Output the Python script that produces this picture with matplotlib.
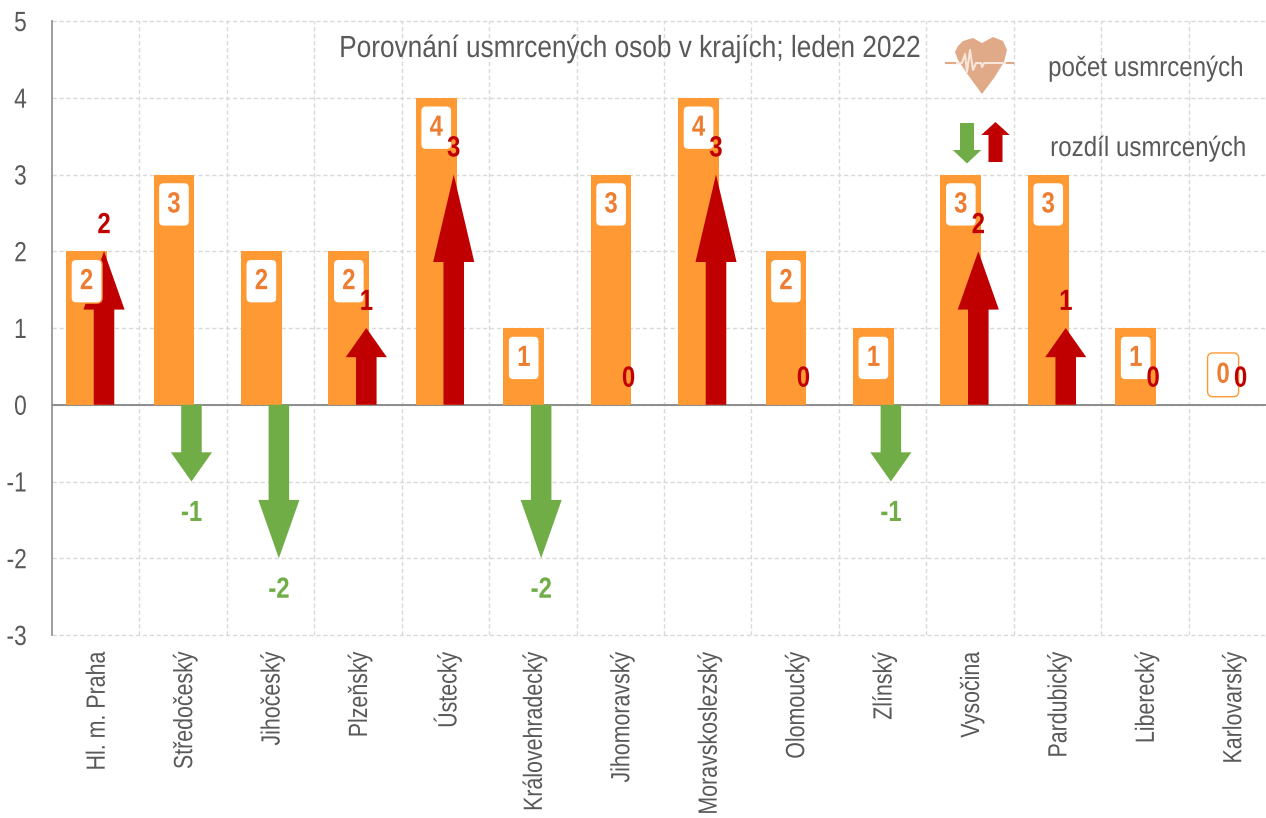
import matplotlib
matplotlib.use('Agg')
import matplotlib.pyplot as plt
import matplotlib.patheffects as pe
from matplotlib.patches import FancyArrow, FancyBboxPatch, Polygon
from matplotlib.transforms import Affine2D

plt.rcParams['font.family'] = ['Liberation Sans', 'DejaVu Sans']
plt.rcParams['axes.unicode_minus'] = False

# data
kraje = ['Hl. m. Praha', 'Středočeský', 'Jihočeský', 'Plzeňský', 'Ústecký', 'Královehradecký',
         'Jihomoravský', 'Moravskoslezský', 'Olomoucký', 'Zlínský', 'Vysočina', 'Pardubický',
         'Liberecký', 'Karlovarský']
pocet = [2, 3, 2, 2, 4, 1, 3, 4, 2, 1, 3, 3, 1, 0]
rozdil = [2, -1, -2, 1, 3, -2, 0, 3, 0, -1, 2, 1, 0, 0]
y_ticks = [-3, -2, -1, 0, 1, 2, 3, 4, 5]

BAR = '#FF9933'
LABEL = '#ED7D31'
RED = '#C00000'
GREEN = '#70AD47'
TEXT = '#595959'
W, H = 1266, 818


class Narrow(pe.AbstractPathEffect):
    """Zuzi text po delce radku (nahrada za Arial Narrow, ktery tu neni)."""
    def __init__(self, sx, anchor='center', dx=0):
        super().__init__()
        self.sx = sx
        self.anchor = anchor
        self.dx = dx

    def draw_path(self, renderer, gc, tpath, affine, rgbFace=None):
        ext = tpath.get_extents()
        c = ext.x1 if self.anchor == 'end' else (ext.x0 + ext.x1) / 2
        t = Affine2D().translate(-c, 0).scale(self.sx, 1).translate(c, 0) + affine
        t = t + Affine2D().translate(self.dx, 0)
        renderer.draw_path(gc, tpath, t, rgbFace)


fig = plt.figure(figsize=(W / 100, H / 100), dpi=100)
# osa jde schvalne az za pravy okraj obrazku
ax = fig.add_axes([52 / W, 1 - 635 / H, (1276 - 52) / W, (635 - 21) / H])
ax.set_xlim(-0.5, 13.5)
ax.set_ylim(-3, 5)
for s in ['top', 'right', 'bottom']:
    ax.spines[s].set_visible(False)
ax.spines['left'].set_color('#8C8C8C')
ax.spines['left'].set_linewidth(1.2)

ax.set_yticks(y_ticks)
ax.set_xticks(range(len(kraje)))
ax.set_xticklabels(kraje, rotation=90, fontsize=19, color=TEXT)
ax.set_xticks([i - 0.5 for i in range(1, len(kraje) + 1)], minor=True)
ax.tick_params(axis='x', which='both', length=0, pad=12)
ax.tick_params(axis='y', length=0, pad=18, labelsize=20, labelcolor=TEXT)
for lab in ax.get_xticklabels():
    lab.set_path_effects([Narrow(0.81, 'end', dx=2)])
for lab in ax.get_yticklabels():
    lab.set_path_effects([Narrow(0.82, 'end')])
ax.grid(True, axis='y', color='#D9D9D9', linestyle=(0, (3, 2)), linewidth=1)
ax.grid(True, axis='x', which='minor', color='#D9D9D9', linestyle=(0, (3, 2)), linewidth=1)
ax.grid(False, axis='x', which='major')
for g in ax.get_ygridlines():
    g.set_clip_on(False)
ax.set_axisbelow(True)
ax.axhline(0, color='#8C8C8C', linewidth=1.4, zorder=2)

bar_x = [i - 0.105 for i in range(len(kraje))]
arrow_x = [i + 0.095 for i in range(len(kraje))]

ax.bar(bar_x, pocet, width=0.465, color=BAR, zorder=2)

# sipky rozdilu
for x, r in zip(arrow_x, rozdil):
    if r == 0:
        continue
    ax.add_patch(FancyArrow(x, 0, 0, r, width=0.235, head_width=0.47, head_length=abs(r) * 0.38,
                            length_includes_head=True, color=RED if r > 0 else GREEN,
                            linewidth=0, zorder=3))

# stitky poctu v bilych rameckach
for x, v in zip(bar_x, pocet):
    y = v - 0.39 if v > 0 else 0.39
    ax.add_patch(FancyBboxPatch((x - 0.1775, y - 0.285), 0.355, 0.57,
                                boxstyle='round,pad=0,rounding_size=0.06',
                                mutation_aspect=1.14, facecolor='white', edgecolor=BAR,
                                linewidth=1, zorder=4))
    t = ax.text(x, y, str(v), ha='center', va='center', fontsize=21, fontweight='bold',
                color=LABEL, zorder=5)
    t.set_path_effects([Narrow(0.82)])

# stitky rozdilu
for x, r in zip(arrow_x, rozdil):
    y = r + 0.34 if r >= 0 else r - 0.41
    t = ax.text(x, y, str(r), ha='center', va='center', fontsize=21, fontweight='bold',
                color=RED if r >= 0 else GREEN, zorder=6)
    t.set_path_effects([Narrow(0.82)])

# texty v pixelech obrazku
px = Affine2D().scale(1, -1).translate(0, H)
t = fig.text(629 / W, 1 - 49 / H, 'Porovnání usmrcených osob v krajích; leden 2022', ha='center', va='center',
             fontsize=22, color=TEXT)
t.set_path_effects([Narrow(0.858)])
t = fig.text(1145.5 / W, 1 - 69 / H, 'počet usmrcených', ha='center', va='center', fontsize=20, color=TEXT)
t.set_path_effects([Narrow(0.867)])
t = fig.text(1148 / W, 1 - 149 / H, 'rozdíl usmrcených', ha='center', va='center', fontsize=20, color=TEXT)
t.set_path_effects([Narrow(0.87)])

# legenda: srdce a dve sipky
heart = [(982, 94), (968, 75), (958, 60), (955, 52), (958, 46), (963, 41), (973, 38), (982, 43),
         (993, 37), (1003, 41), (1007, 50), (1004, 62), (994, 78)]
fig.add_artist(Polygon(heart, closed=True, transform=px, facecolor='#E0A988', edgecolor='none'))
fig.add_artist(plt.Line2D([946, 1013], [63, 63], transform=px, color='#E0A988', linewidth=1.5))
pulse = [(957, 63), (962, 63), (965, 54), (967, 72), (970, 50), (973, 70), (976, 63), (981, 63),
         (982, 67), (984, 63), (1005, 63)]
fig.add_artist(plt.Line2D([p[0] for p in pulse], [p[1] for p in pulse], transform=px,
                          color='#F8E6DA', linewidth=1.5))
fig.add_artist(FancyArrow(967, 123, 0, 40.5, width=14, head_width=28.5, head_length=13.5,
                          length_includes_head=True, color=GREEN, linewidth=0, transform=px))
fig.add_artist(FancyArrow(995.5, 162, 0, -40, width=14, head_width=28.5, head_length=13,
                          length_includes_head=True, color=RED, linewidth=0, transform=px))

fig.savefig('out.png', dpi=100)
